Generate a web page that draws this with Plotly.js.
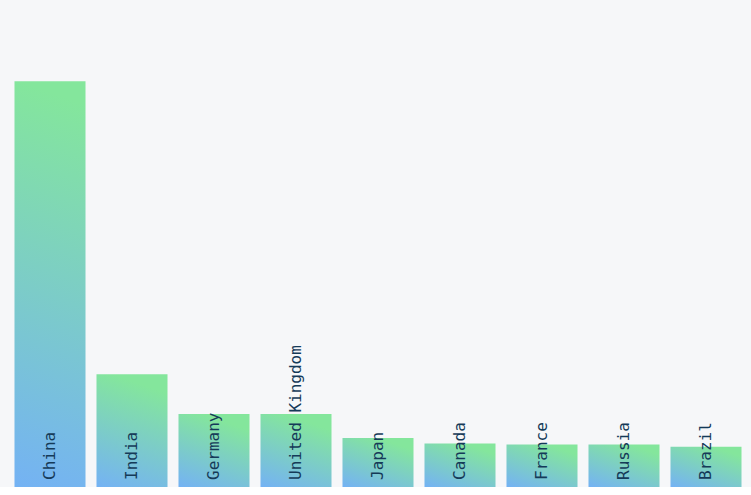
<!DOCTYPE html>
<html>
<head>
<meta charset="utf-8">
<script src="https://cdn.plot.ly/plotly-3.0.1.min.js"></script>
<style>
  html, body { margin: 0; padding: 0; background: #ffffff; }
  #chart { width: 751px; height: 487px; }
</style>
</head>
<body>
<div id="chart"></div>
<script>
const countries = ["China", "India", "Germany", "United Kingdom", "Japan", "Canada", "France", "Russia", "Brazil"];
const values = [100, 27.8, 18.0, 18.0, 12.1, 10.7, 10.5, 10.5, 9.9];

const trace = {
  type: 'bar',
  x: countries,
  y: values,
  text: countries,
  textposition: 'inside',
  insidetextanchor: 'start',
  textangle: -90,
  constraintext: 'none',
  cliponaxis: false,
  textfont: { family: 'DejaVu Sans Mono, monospace', size: 16, color: '#153a58' },
  marker: { color: '#7cc8c8', line: { width: 0 } },
  hoverinfo: 'x+y'
};

const layout = {
  width: 751,
  height: 487,
  margin: { l: 9, r: 4, t: 0, b: 0, pad: 0 },
  paper_bgcolor: '#f6f7f9',
  plot_bgcolor: '#f6f7f9',
  bargap: 0.134,
  showlegend: false,
  xaxis: { visible: false, showgrid: false, zeroline: false },
  yaxis: { visible: false, range: [0, 120], showgrid: false, zeroline: false }
};

Plotly.newPlot('chart', [trace], layout, { displayModeBar: false, staticPlot: true }).then(function (gd) {
  const svg = gd.querySelector('svg.main-svg');
  const ns = 'http://www.w3.org/2000/svg';
  let defs = svg.querySelector('defs');
  if (!defs) { defs = document.createElementNS(ns, 'defs'); svg.insertBefore(defs, svg.firstChild); }
  const slope = 0.35;
  gd.querySelectorAll('.barlayer .point').forEach(function (pt, i) {
    const p = pt.querySelector('path');
    if (p) {
      const bb = p.getBBox();
      const grad = document.createElementNS(ns, 'linearGradient');
      grad.setAttribute('id', 'barGrad' + i);
      grad.setAttribute('x1', '0'); grad.setAttribute('y1', '1');
      grad.setAttribute('x2', String(Math.min(1, slope * bb.width / Math.max(bb.height, 1))));
      grad.setAttribute('y2', '0');
      const s1 = document.createElementNS(ns, 'stop');
      s1.setAttribute('offset', '0'); s1.setAttribute('stop-color', '#74b2f4');
      const s2 = document.createElementNS(ns, 'stop');
      s2.setAttribute('offset', '1'); s2.setAttribute('stop-color', '#84e69c');
      grad.appendChild(s1); grad.appendChild(s2);
      defs.appendChild(grad);
      p.style.fill = 'url(#barGrad' + i + ')';
      p.style.fillOpacity = '1';
    }
    const t = pt.querySelector('text');
    if (t) {
      const tr = t.getAttribute('transform') || '';
      t.setAttribute('transform', 'translate(-1,-4) ' + tr);
    }
  });
});
</script>
</body>
</html>
